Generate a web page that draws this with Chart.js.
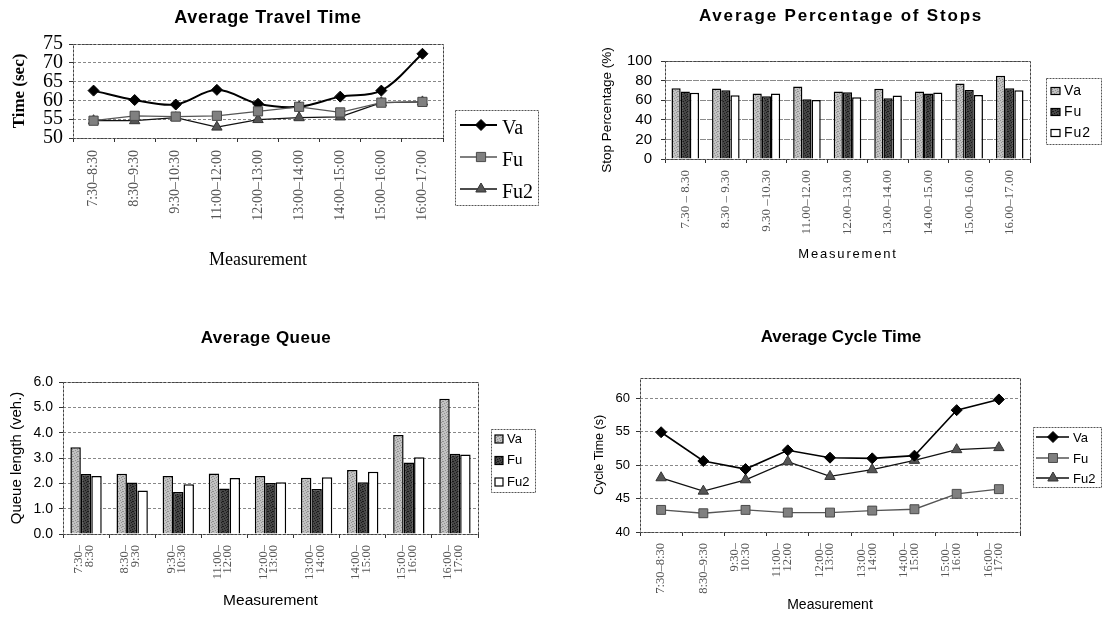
<!DOCTYPE html>
<html>
<head>
<meta charset="utf-8">
<script src="https://cdn.jsdelivr.net/npm/chart.js@4/dist/chart.umd.min.js"></script>
<style>
  html, body { margin: 0; padding: 0; background: #fff; }
  #page { position: relative; width: 1114px; height: 617px; overflow: hidden; background: #fff; }
  #page canvas { position: absolute; left: 0; top: 0; pointer-events: none; }
</style>
</head>
<body>
<div id="page">
  <canvas id="travel" width="1114" height="617"></canvas>
  <canvas id="stops" width="1114" height="617"></canvas>
  <canvas id="queue" width="1114" height="617"></canvas>
  <canvas id="cycle" width="1114" height="617"></canvas>
</div>
<script>
// ---- measurement periods (category labels) ----
const travelPeriods = ['7:30–8:30', '8:30–9:30', '9:30–10:30', '11:00–12:00', '12:00–13:00',
                       '13:00–14:00', '14:00–15:00', '15:00–16:00', '16:00–17:00'];
const stopPeriods = ['7.30 – 8.30', '8.30 – 9.30', '9.30 –10.30', '11.00–12.00', '12.00–13.00',
                     '13.00–14.00', '14.00–15.00', '15.00–16.00', '16.00–17.00'];
const queuePeriods = [['7:30–', '8:30'], ['8:30–', '9:30'], ['9:30–', '10:30'], ['11:00–', '12:00'],
                      ['12:00–', '13:00'], ['13:00–', '14:00'], ['14:00–', '15:00'], ['15:00–', '16:00'],
                      ['16:00–', '17:00']];
const cyclePeriods = [['', '7:30–8:30'], ['', '8:30–9:30'], ['9:30–', '10:30'], ['11:00–', '12:00'],
                      ['12:00–', '13:00'], ['13:00–', '14:00'], ['14:00–', '15:00'], ['15:00–', '16:00'],
                      ['16:00–', '17:00']];

// ---- average travel time (sec) ----
const travelVa  = [62.6, 60.1, 58.9, 62.8, 59.1, 58.3, 61.0, 62.6, 72.4];
const travelFu  = [54.6, 55.9, 55.7, 55.9, 57.1, 58.3, 56.8, 59.4, 59.6];
const travelFu2 = [54.6, 54.6, 55.4, 52.9, 54.9, 55.4, 55.6, 59.4, 59.6];
const travelTicks = [50, 55, 60, 65, 70, 75];

// ---- average percentage of stops (%) ----
const stopVa  = [72.2, 72.0, 66.8, 73.9, 68.8, 71.8, 68.8, 77.0, 85.0];
const stopFu  = [68.8, 70.2, 64.0, 61.0, 68.1, 62.0, 66.8, 70.5, 72.2];
const stopFu2 = [67.5, 65.0, 66.8, 60.3, 63.0, 64.7, 67.8, 65.4, 70.2];
const stopTicks = [0, 20, 40, 60, 80, 100];

// ---- average queue length (veh.) ----
const queueVa  = [3.42, 2.38, 2.29, 2.39, 2.29, 2.22, 2.53, 3.91, 5.34];
const queueFu  = [2.37, 2.03, 1.66, 1.80, 2.01, 1.78, 2.04, 2.82, 3.17];
const queueFu2 = [2.29, 1.72, 1.96, 2.21, 2.04, 2.24, 2.46, 3.03, 3.14];
const queueTicks = [0, 1, 2, 3, 4, 5, 6];

// ---- average cycle time (s) ----
const cycleVa  = [54.9, 50.6, 49.4, 52.2, 51.1, 51.0, 51.4, 58.2, 59.8];
const cycleFu  = [43.3, 42.8, 43.3, 42.9, 42.9, 43.2, 43.4, 45.7, 46.4];
const cycleFu2 = [48.1, 46.1, 47.8, 50.5, 48.3, 49.3, 50.7, 52.3, 52.6];
const cycleTicks = [40, 45, 50, 55, 60];

const PAGE_W = 1114, PAGE_H = 617;

// Small stippled tile used as a printed-texture bar fill.
function stippleFill(base, dot) {
  const c = document.createElement('canvas');
  c.width = 5; c.height = 5;
  const g = c.getContext('2d');
  g.fillStyle = base; g.fillRect(0, 0, 5, 5);
  g.fillStyle = dot;
  [[0, 0], [3, 1], [1, 2], [4, 3], [2, 4], [2, 1]].forEach(([x, y]) => g.fillRect(x, y, 1, 1));
  return g.createPattern(c, 'repeat');
}
const vaFill = stippleFill('#c2c2c2', '#909090');
const fuFill = stippleFill('#464646', '#1a1a1a');

// Draws the dashed plot frame, panel titles and boxed legends.
const decor = {
  id: 'decor',
  beforeDatasetsDraw(chart, args, o) {
    const ctx = chart.ctx, a = chart.chartArea;
    ctx.save();
    ctx.strokeStyle = o.frameColor || '#444';
    ctx.lineWidth = 1;
    ctx.setLineDash(o.frameDash || [3, 1]);
    ctx.strokeRect(Math.round(a.left) + 0.5, Math.round(a.top) + 0.5,
                   Math.round(a.right - a.left), Math.round(a.bottom - a.top));
    ctx.restore();
  },
  afterDraw(chart, args, o) {
    const ctx = chart.ctx;
    ctx.save();
    (o.texts || []).forEach(t => {
      ctx.font = t.font;
      ctx.fillStyle = t.color || '#000';
      ctx.letterSpacing = (t.spacing || 0) + 'px';
      ctx.textAlign = 'center';
      ctx.textBaseline = 'middle';
      ctx.fillText(t.text, t.x, t.y);
    });
    ctx.letterSpacing = '0px';
    const L = o.legend;
    if (L) {
      ctx.strokeStyle = '#555';
      ctx.lineWidth = 1;
      ctx.setLineDash([2, 1]);
      ctx.strokeRect(L.x + 0.5, L.y + 0.5, L.w, L.h);
      ctx.setLineDash([]);
      chart.data.datasets.forEach((ds, i) => {
        const y = L.rows[i];
        if (L.kind === 'line') {
          ctx.strokeStyle = ds.borderColor;
          ctx.lineWidth = ds.borderWidth;
          ctx.beginPath();
          ctx.moveTo(L.sample[0], y);
          ctx.lineTo(L.sample[1], y);
          ctx.stroke();
          ctx.fillStyle = ds.pointBackgroundColor;
          ctx.strokeStyle = ds.pointBorderColor;
          ctx.lineWidth = ds.pointBorderWidth;
          Chart.helpers.drawPoint(ctx, {
            pointStyle: ds.pointStyle, radius: ds.pointRadius * (L.markerScale || 1),
            rotation: 0, borderWidth: ds.pointBorderWidth
          }, L.marker, y);
        } else {
          ctx.fillStyle = ds.backgroundColor;
          ctx.fillRect(L.swatch[0], y - L.swatch[2] / 2, L.swatch[1], L.swatch[2]);
          ctx.strokeStyle = '#000';
          ctx.lineWidth = 1.2;
          ctx.strokeRect(L.swatch[0], y - L.swatch[2] / 2, L.swatch[1], L.swatch[2]);
        }
        ctx.fillStyle = '#000';
        ctx.font = L.font;
        ctx.letterSpacing = (L.spacing || 0) + 'px';
        ctx.textAlign = 'left';
        ctx.textBaseline = 'middle';
        ctx.fillText(ds.label, L.textX, y + (L.textDy || 0));
        ctx.letterSpacing = '0px';
      });
    }
    ctx.restore();
  }
};

// Builds options that pin the plot area to the given page rectangle.
function panelOptions(p) {
  const yLH = p.yTitleFont.size * 1.2;
  const xLH = p.xTitleFont ? p.xTitleFont.size * 1.2 : 0;
  const xBoxBottom = p.xTitle ? p.xTitleY + xLH / 2 : p.xBoxBottom;
  return {
    responsive: false,
    animation: false,
    events: [],
    layout: { padding: { left: 0, top: p.top, right: PAGE_W - p.right, bottom: PAGE_H - xBoxBottom } },
    plugins: {
      legend: { display: false },
      tooltip: { enabled: false },
      title: { display: false },
      decor: p.decor
    },
    scales: {
      x: {
        offset: true,
        grid: { display: true, drawOnChartArea: false, drawTicks: true, tickLength: 4,
                tickColor: '#333', offset: true },
        border: { display: false },
        ticks: { minRotation: 90, maxRotation: 90, autoSkip: false, padding: p.xTickPad,
                 color: p.xTickColor, font: p.xTickFont, labelOffset: p.labelOffset || 0 },
        title: { display: !!p.xTitle, text: p.xTitle, font: p.xTitleFont, color: '#000', padding: 0 },
        afterFit: s => { s.height = xBoxBottom - p.bottom; }
      },
      y: {
        min: p.min,
        max: p.max,
        afterBuildTicks: s => { s.ticks = p.tickValues.map(v => ({ value: v })); },
        grid: { color: p.gridColor || '#888', lineWidth: 1, drawTicks: true, tickLength: 4, tickColor: '#333' },
        border: { display: false, dash: p.gridDash || [3, 2] },
        ticks: { autoSkip: false, font: p.yTickFont, color: '#000', padding: p.yTickPad,
                 callback: v => p.decimals ? Number(v).toFixed(p.decimals) : String(v) },
        title: { display: true, text: p.yTitle, font: p.yTitleFont, color: '#000',
                 padding: { top: p.yTitleX - yLH / 2, bottom: 0 } },
        afterFit: s => { s.width = p.left; }
      }
    }
  };
}

const SANS = 'Liberation Sans';
const SERIF = 'Liberation Serif';

// ---------- Average Travel Time ----------
new Chart(document.getElementById('travel'), {
  type: 'line',
  data: {
    labels: travelPeriods,
    datasets: [
      { label: 'Va', data: travelVa, order: 3, borderColor: '#000', borderWidth: 2, tension: 0.35,
        pointStyle: 'rectRot', pointRadius: 5.5, pointBackgroundColor: '#000', pointBorderColor: '#000',
        pointBorderWidth: 1 },
      { label: 'Fu', data: travelFu, order: 1, borderColor: '#555', borderWidth: 1.3, tension: 0,
        pointStyle: 'rect', pointRadius: 6.5, pointBackgroundColor: '#808080', pointBorderColor: '#4a4a4a',
        pointBorderWidth: 1 },
      { label: 'Fu2', data: travelFu2, order: 2, borderColor: '#111', borderWidth: 1.3, tension: 0,
        pointStyle: 'triangle', pointRadius: 6, pointBackgroundColor: '#555', pointBorderColor: '#333',
        pointBorderWidth: 1 }
    ]
  },
  options: panelOptions({
    left: 73, right: 443, top: 44, bottom: 138,
    min: 50, max: 75, tickValues: travelTicks,
    yTitle: 'Time (sec)', yTitleFont: { family: SERIF, size: 17, weight: 'bold' }, yTitleX: 20,
    yTickFont: { family: SERIF, size: 20 }, yTickPad: 6,
    xTickFont: { family: SERIF, size: 14 }, xTickColor: '#555', xTickPad: 8,
    xTitle: 'Measurement', xTitleFont: { family: SERIF, size: 18 }, xTitleY: 260,
    decor: {
      texts: [{ text: 'Average Travel Time', x: 268, y: 18, font: `bold 18px "${SANS}"`, spacing: 0.7 }],
      legend: { kind: 'line', x: 455, y: 110, w: 83, h: 95, rows: [125, 157, 189],
                sample: [460, 497], marker: 481, textX: 502, textDy: 4, font: `20px "${SERIF}"` }
    }
  }),
  plugins: [decor]
});

// ---------- Average Percentage of Stops ----------
new Chart(document.getElementById('stops'), {
  type: 'bar',
  data: {
    labels: stopPeriods,
    datasets: [
      { label: 'Va', data: stopVa, backgroundColor: vaFill, borderColor: '#000', borderWidth: 1.5,
        categoryPercentage: 0.68, barPercentage: 1.0 },
      { label: 'Fu', data: stopFu, backgroundColor: fuFill, borderColor: '#000', borderWidth: 1.5,
        categoryPercentage: 0.68, barPercentage: 1.0 },
      { label: 'Fu2', data: stopFu2, backgroundColor: '#ffffff', borderColor: '#000', borderWidth: 1.5,
        categoryPercentage: 0.68, barPercentage: 1.0 }
    ]
  },
  options: panelOptions({
    left: 665, right: 1030, top: 61, bottom: 159,
    min: 0, max: 100, tickValues: stopTicks, gridColor: '#8a8a8a', gridDash: [6, 1],
    yTitle: 'Stop Percentage (%)', yTitleFont: { family: SANS, size: 13.5 }, yTitleX: 607,
    yTickFont: { family: SANS, size: 15 }, yTickPad: 9,
    xTickFont: { family: SERIF, size: 13 }, xTickColor: '#555', xTickPad: 7,
    xBoxBottom: 245,
    decor: {
      texts: [
        { text: 'Average Percentage of Stops', x: 841, y: 16, font: `bold 17px "${SANS}"`, spacing: 1.8 },
        { text: 'Measurement', x: 848, y: 254, font: `13px "${SANS}"`, spacing: 1.8 }
      ],
      legend: { kind: 'bar', x: 1046, y: 78, w: 55, h: 66, rows: [91, 112, 133],
                swatch: [1051, 9, 7], textX: 1064, font: `14px "${SANS}"`, spacing: 1 }
    }
  }),
  plugins: [decor]
});

// ---------- Average Queue ----------
new Chart(document.getElementById('queue'), {
  type: 'bar',
  data: {
    labels: queuePeriods,
    datasets: [
      { label: 'Va', data: queueVa, backgroundColor: vaFill, borderColor: '#000', borderWidth: 1.5,
        categoryPercentage: 0.68, barPercentage: 1.0 },
      { label: 'Fu', data: queueFu, backgroundColor: fuFill, borderColor: '#000', borderWidth: 1.5,
        categoryPercentage: 0.68, barPercentage: 1.0 },
      { label: 'Fu2', data: queueFu2, backgroundColor: '#ffffff', borderColor: '#000', borderWidth: 1.5,
        categoryPercentage: 0.68, barPercentage: 1.0 }
    ]
  },
  options: panelOptions({
    left: 63, right: 478, top: 382, bottom: 534,
    min: 0, max: 6, tickValues: queueTicks, decimals: 1,
    yTitle: 'Queue length (veh.)', yTitleFont: { family: SANS, size: 15 }, yTitleX: 17,
    yTickFont: { family: SANS, size: 14 }, yTickPad: 6,
    xTickFont: { family: SERIF, size: 12.5, lineHeight: 0.85 }, xTickColor: '#555', xTickPad: 7,
    labelOffset: -7,
    xTitle: 'Measurement', xTitleFont: { family: SANS, size: 15.5 }, xTitleY: 601,
    decor: {
      texts: [{ text: 'Average Queue', x: 266, y: 338, font: `bold 17px "${SANS}"`, spacing: 0.5 }],
      legend: { kind: 'bar', x: 491, y: 429, w: 44, h: 63, rows: [439, 460.5, 482],
                swatch: [495, 8, 8], textX: 507, font: `13px "${SANS}"` }
    }
  }),
  plugins: [decor]
});

// ---------- Average Cycle Time ----------
new Chart(document.getElementById('cycle'), {
  type: 'line',
  data: {
    labels: cyclePeriods,
    datasets: [
      { label: 'Va', data: cycleVa, borderColor: '#000', borderWidth: 1.6, tension: 0,
        pointStyle: 'rectRot', pointRadius: 5.5, pointBackgroundColor: '#000', pointBorderColor: '#000',
        pointBorderWidth: 1 },
      { label: 'Fu', data: cycleFu, borderColor: '#555', borderWidth: 1.3, tension: 0,
        pointStyle: 'rect', pointRadius: 6.3, pointBackgroundColor: '#808080', pointBorderColor: '#4a4a4a',
        pointBorderWidth: 1 },
      { label: 'Fu2', data: cycleFu2, borderColor: '#111', borderWidth: 1.3, tension: 0,
        pointStyle: 'triangle', pointRadius: 6, pointBackgroundColor: '#555', pointBorderColor: '#333',
        pointBorderWidth: 1 }
    ]
  },
  options: panelOptions({
    left: 640, right: 1020, top: 378, bottom: 532,
    min: 40, max: 63, tickValues: cycleTicks,
    yTitle: 'Cycle Time (s)', yTitleFont: { family: SANS, size: 12.5 }, yTitleX: 600,
    yTickFont: { family: SANS, size: 13 }, yTickPad: 6,
    xTickFont: { family: SERIF, size: 12.5, lineHeight: 0.85 }, xTickColor: '#555', xTickPad: 7,
    labelOffset: -10.6,
    xTitle: 'Measurement', xTitleFont: { family: SANS, size: 14 }, xTitleY: 605,
    decor: {
      texts: [{ text: 'Average Cycle Time', x: 841, y: 337, font: `bold 17px "${SANS}"` }],
      legend: { kind: 'line', x: 1033, y: 427, w: 68, h: 60, rows: [437, 458, 478],
                sample: [1036, 1069], marker: 1053, textX: 1073, textDy: 1, font: `13px "${SANS}"` }
    }
  }),
  plugins: [decor]
});
</script>
</body>
</html>
